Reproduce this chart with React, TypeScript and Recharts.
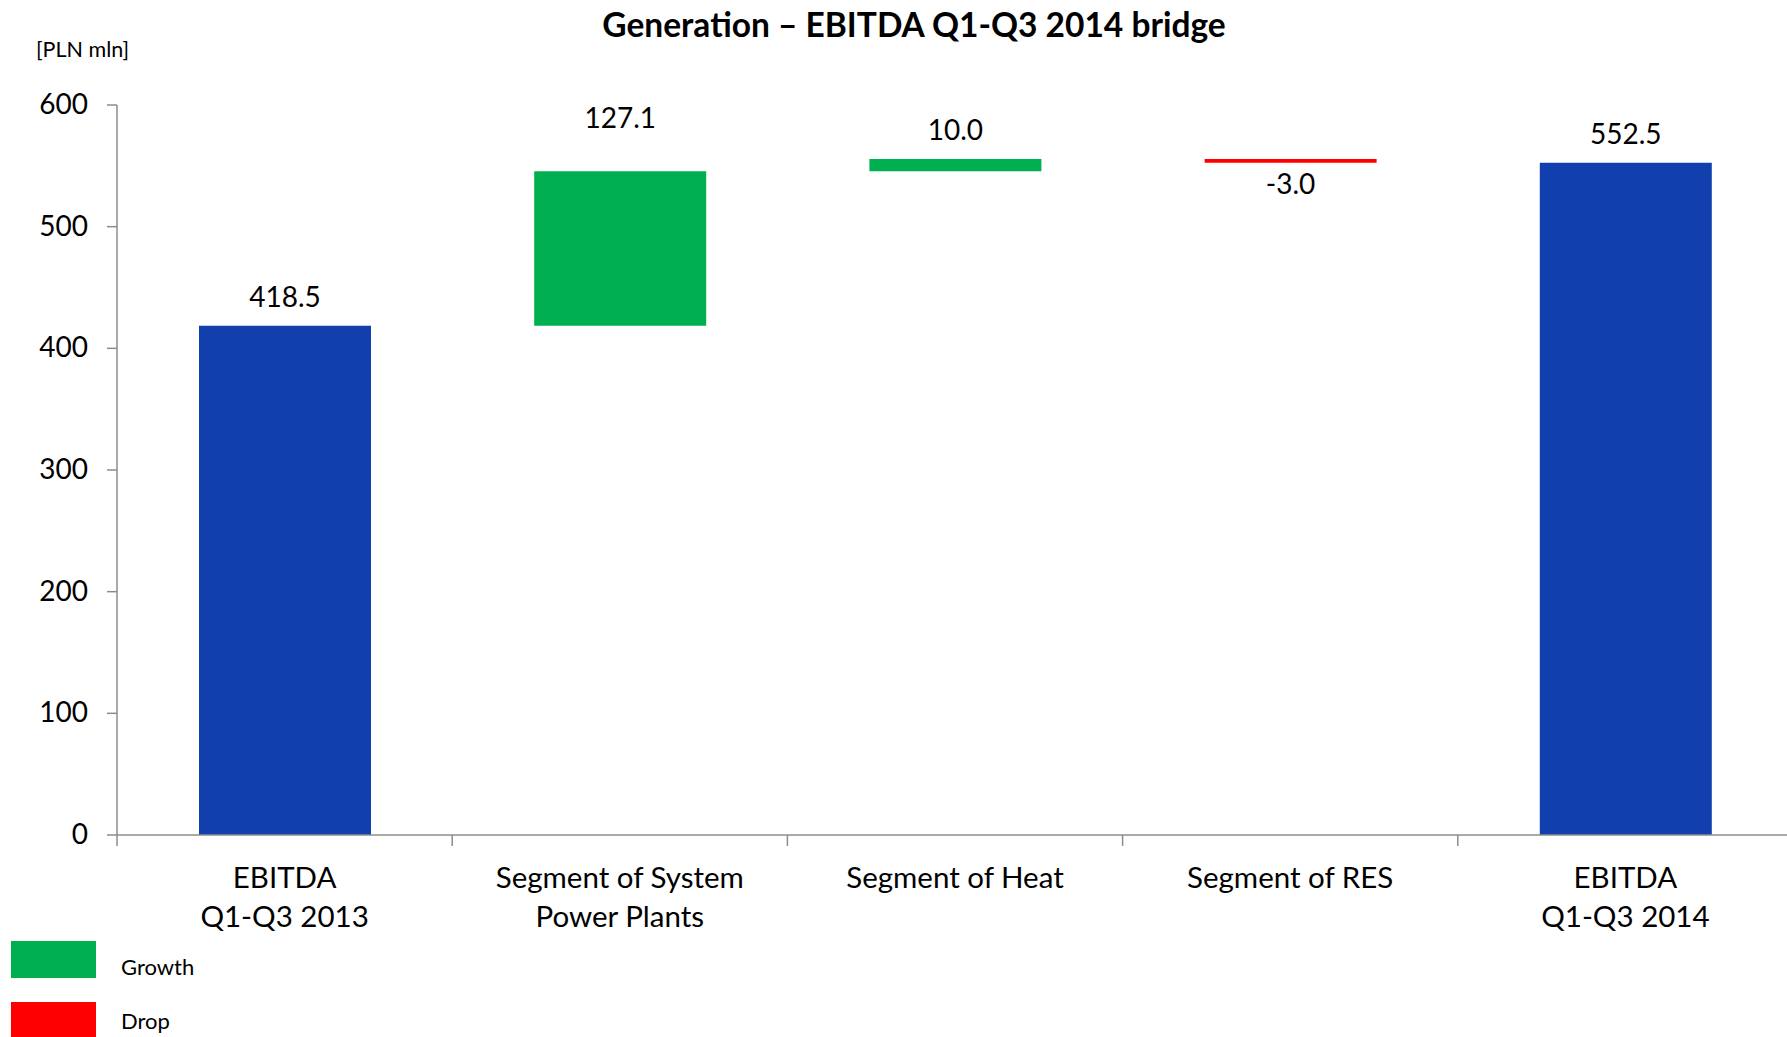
import React from "react";
import { BarChart, Bar, XAxis, YAxis, Cell, LabelList } from "recharts";

// Bridge steps
const categories: string[][] = [
  ["EBITDA", "Q1-Q3 2013"],
  ["Segment of System", "Power Plants"],
  ["Segment of Heat"],
  ["Segment of RES"],
  ["EBITDA", "Q1-Q3 2014"],
];
const values: number[] = [418.5, 127.1, 10.0, -3.0, 552.5];
const kinds: string[] = ["total", "delta", "delta", "delta", "total"];
const yTicks: number[] = [0, 100, 200, 300, 400, 500, 600];
const legendItems: string[] = ["Growth", "Drop"];

const COLORS = { total: "#1140AE", up: "#00B050", down: "#FF0000" };
const FONT = "Lato, 'Open Sans', sans-serif";
const AXIS = "#8c8c8c";

// Chart geometry
const W = 1800;
const H = 1037;
const MARGIN = { top: 105, right: 7, bottom: 82, left: 17 };
const Y_AXIS_W = 100;
const X_AXIS_H = 120;
const PLOT_LEFT = MARGIN.left + Y_AXIS_W;
const PLOT_W = W - MARGIN.right - PLOT_LEFT;
const BAND = PLOT_W / categories.length;
const AXIS_Y = H - MARGIN.bottom - X_AXIS_H;

// Running totals into invisible base + visible step
let running = 0;
const data = categories.map((c, i) => {
  const v = values[i];
  let base = 0;
  let size = v;
  if (kinds[i] === "total") {
    running = v;
  } else {
    base = v >= 0 ? running : running + v;
    size = Math.abs(v);
    running += v;
  }
  return { name: c.join(" "), base, size, value: v, kind: kinds[i], idx: i };
});

const barColor = (d: { kind: string; value: number }) =>
  d.kind === "total" ? COLORS.total : d.value >= 0 ? COLORS.up : COLORS.down;

const XTick = (props: any) => {
  const { x, index } = props;
  const lines = categories[index] || [];
  const left = x - BAND / 2;
  return (
    <g>
      <line x1={left} y1={AXIS_Y} x2={left} y2={AXIS_Y + 11} stroke={AXIS} strokeWidth={1.5} />
      {index === categories.length - 1 && (
        <line x1={left + BAND} y1={AXIS_Y} x2={left + BAND} y2={AXIS_Y + 11} stroke={AXIS} strokeWidth={1.5} />
      )}
      {lines.map((l, k) => (
        <text
          key={k}
          x={x}
          y={AXIS_Y + 46 + k * 39}
          textAnchor="middle"
          dominantBaseline="middle"
          fontFamily={FONT}
          fontSize={29.5}
          fill="#000"
        >
          {l}
        </text>
      ))}
    </g>
  );
};

const YTick = (props: any) => {
  const { y, payload } = props;
  return (
    <text
      x={PLOT_LEFT - 29}
      y={y + 2}
      textAnchor="end"
      dominantBaseline="middle"
      fontFamily={FONT}
      fontSize={28}
      fill="#000"
    >
      {payload.value}
    </text>
  );
};

const ValueLabel = (props: any) => {
  const { x, y, width, height, index } = props;
  const d = data[index];
  const cx = x + width / 2;
  const text = d.value.toFixed(1);
  // Extra lift for the tall growth step label
  const lift = d.kind === "delta" && d.size > 50 ? 50 : 26;
  const ty = d.value >= 0 ? y - lift : y + height + 24;
  return (
    <text
      x={cx}
      y={ty}
      textAnchor="middle"
      dominantBaseline="middle"
      fontFamily={FONT}
      fontSize={28}
      fill="#000"
    >
      {text}
    </text>
  );
};

export default function App() {
  return (
    <div
      style={{
        position: "absolute",
        left: 0,
        top: 0,
        width: 1787,
        height: 1037,
        overflow: "hidden",
        background: "#fff",
      }}
    >
      <BarChart width={W} height={H} data={data} margin={MARGIN} barSize={172}>
        <text
          x={914}
          y={28}
          textAnchor="middle"
          dominantBaseline="middle"
          fontFamily={FONT}
          fontWeight="bold"
          fontSize={33.5}
          fill="#000"
        >
          Generation – EBITDA Q1-Q3 2014 bridge
        </text>
        <text x={36} y={52} dominantBaseline="middle" fontFamily={FONT} fontSize={21.5} fill="#000">
          [PLN mln]
        </text>
        <XAxis
          dataKey="name"
          height={X_AXIS_H}
          axisLine={{ stroke: AXIS, strokeWidth: 1.5 }}
          tickLine={false}
          tick={<XTick />}
          interval={0}
        />
        <YAxis
          width={Y_AXIS_W}
          domain={[0, 600]}
          ticks={yTicks}
          axisLine={{ stroke: AXIS, strokeWidth: 1.5 }}
          tickLine={{ stroke: AXIS, strokeWidth: 1.5 }}
          tickSize={10}
          tick={<YTick />}
          interval={0}
        />
        <Bar dataKey="base" stackId="w" fill="transparent" isAnimationActive={false} />
        <Bar dataKey="size" stackId="w" isAnimationActive={false}>
          {data.map((d) => (
            <Cell key={d.idx} fill={barColor(d)} />
          ))}
          <LabelList dataKey="value" content={<ValueLabel />} />
        </Bar>
        {legendItems.map((t, i) => (
          <g key={t}>
            <rect x={11} y={941 + i * 61} width={85} height={37} fill={i === 0 ? COLORS.up : COLORS.down} />
            <text
              x={121}
              y={969 + i * 54}
              dominantBaseline="middle"
              fontFamily={FONT}
              fontSize={22}
              fill="#000"
            >
              {t}
            </text>
          </g>
        ))}
      </BarChart>
    </div>
  );
}
